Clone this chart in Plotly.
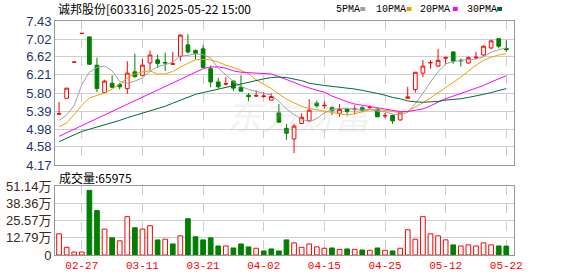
import plotly.graph_objects as go

dates = ["02-24","02-25","02-26","02-27","02-28","03-03","03-04","03-05","03-06","03-07",
         "03-10","03-11","03-12","03-13","03-14","03-17","03-18","03-19","03-20","03-21",
         "03-24","03-25","03-26","03-27","03-28","03-31","04-01","04-02","04-03","04-07",
         "04-08","04-09","04-10","04-11","04-14","04-15","04-16","04-17","04-18","04-21",
         "04-22","04-23","04-24","04-25","04-28","04-29","04-30","05-06","05-07","05-08",
         "05-09","05-12","05-13","05-14","05-15","05-16","05-19","05-20","05-21","05-22"]

opens = [5.32,5.68,6.50,7.15,7.07,6.43,5.81,6.02,5.99,5.90,
         6.28,6.20,6.48,6.55,6.49,6.45,6.63,6.89,6.76,6.80,
         6.35,6.05,6.00,6.07,5.93,5.75,5.73,5.72,5.64,5.35,
         5.00,4.76,5.11,5.17,5.57,5.51,5.47,5.34,5.44,5.43,
         5.47,5.47,5.43,5.28,5.29,5.19,5.68,5.88,6.25,6.48,
         6.41,6.59,6.73,6.54,6.48,6.60,6.66,6.82,7.03,6.81]
highs = [5.60,5.91,6.50,7.15,7.08,6.60,6.10,6.20,6.03,6.52,
         6.69,6.57,6.76,6.67,6.71,6.73,7.13,7.13,6.79,6.88,
         6.42,6.14,6.16,6.08,6.20,5.80,5.86,5.82,5.79,5.55,
         5.10,5.10,5.34,5.66,5.63,5.61,5.50,5.55,5.47,5.52,
         5.50,5.52,5.46,5.35,5.31,5.37,5.94,6.27,6.55,6.54,
         6.80,6.63,6.74,6.58,6.63,6.73,6.88,7.01,7.03,6.99]
lows = [5.31,5.68,6.50,7.15,6.44,5.82,5.81,5.91,5.88,5.78,
        6.15,6.19,6.31,6.37,6.30,6.44,6.52,6.69,6.56,6.37,
        5.93,5.90,5.97,5.85,5.84,5.61,5.71,5.69,5.64,5.13,
        4.74,4.44,5.10,5.17,5.47,5.44,5.30,5.26,5.30,5.32,
        5.36,5.44,5.26,5.23,5.10,5.18,5.68,5.81,6.16,6.35,
        6.39,6.46,6.46,6.40,6.46,6.56,6.64,6.79,6.81,6.73]
closes = [5.33,5.91,6.50,7.15,6.45,5.90,6.07,5.93,5.94,6.25,
          6.17,6.43,6.66,6.47,6.48,6.46,7.11,6.73,6.69,6.38,
          6.05,5.94,6.01,5.91,5.84,5.72,5.74,5.73,5.72,5.14,
          4.89,5.05,5.25,5.41,5.51,5.52,5.40,5.43,5.38,5.44,
          5.41,5.48,5.26,5.29,5.17,5.37,5.71,6.27,6.41,6.49,
          6.54,6.60,6.52,6.53,6.60,6.61,6.86,6.98,6.86,6.78]

# volume in 万 (10k)
volumes = [15.7,5.7,2.2,2.2,47.9,32.9,19.2,12.7,10.5,28.4,
           20.2,19.2,21.7,11.2,11.7,8.2,14.2,26.9,13.5,11.2,
           12.7,6.7,6.7,5.2,8.2,6.0,5.0,3.0,4.5,3.0,
           11.2,9.0,5.7,8.2,6.0,5.0,5.2,4.2,4.5,4.2,
           3.7,3.5,5.2,3.5,3.0,5.0,18.7,11.7,28.4,15.7,
           14.2,11.2,7.5,6.7,7.5,6.7,9.0,7.5,6.7,6.6]
vol_up = [1,1,1,1,0,0,1,0,1,1,
          0,1,1,0,1,0,1,0,0,0,
          0,0,1,0,0,0,1,0,0,0,
          0,1,1,1,1,1,0,1,0,1,
          0,1,0,1,0,1,1,1,1,1,
          1,1,0,1,1,1,1,1,0,0]

ma5 = [5.18,5.30,5.52,5.99,6.27,6.38,6.41,6.30,6.06,6.02,
       6.07,6.14,6.29,6.40,6.44,6.50,6.64,6.65,6.69,6.67,
       6.59,6.36,6.21,6.06,5.95,5.88,5.84,5.79,5.75,5.61,
       5.44,5.31,5.21,5.15,5.22,5.35,5.42,5.45,5.45,5.43,
       5.41,5.43,5.39,5.38,5.32,5.31,5.36,5.56,5.79,6.05,
       6.28,6.46,6.51,6.54,6.56,6.57,6.62,6.72,6.78,6.82]
ma10 = [5.04,5.12,5.31,5.52,5.69,5.75,5.80,5.89,6.00,6.14,
        6.23,6.28,6.30,6.23,6.23,6.29,6.39,6.47,6.55,6.56,
        6.55,6.50,6.43,6.38,6.31,6.24,6.10,6.00,5.90,5.78,
        5.66,5.58,5.50,5.45,5.42,5.40,5.36,5.33,5.30,5.33,
        5.38,5.42,5.42,5.41,5.38,5.36,5.39,5.48,5.58,5.69,
        5.80,5.91,6.04,6.16,6.30,6.43,6.54,6.61,6.66,6.69]
ma20 = [4.82,4.90,4.98,5.06,5.14,5.23,5.31,5.39,5.47,5.55,
        5.63,5.71,5.79,5.87,5.95,6.03,6.11,6.19,6.28,6.35,
        6.39,6.39,6.36,6.30,6.27,6.26,6.25,6.24,6.23,6.17,
        6.11,6.04,5.97,5.91,5.86,5.82,5.73,5.67,5.60,5.55,
        5.52,5.50,5.46,5.43,5.40,5.38,5.38,5.41,5.44,5.51,
        5.59,5.67,5.73,5.79,5.84,5.90,5.97,6.05,6.12,6.19]
ma30 = [4.70,4.78,4.86,4.93,4.98,5.03,5.07,5.12,5.18,5.24,
        5.29,5.34,5.39,5.44,5.50,5.57,5.64,5.71,5.77,5.81,
        5.85,5.89,5.92,5.96,6.00,6.04,6.09,6.12,6.15,6.16,
        6.15,6.12,6.08,6.02,5.99,5.97,5.95,5.93,5.92,5.89,
        5.86,5.83,5.79,5.75,5.70,5.67,5.62,5.60,5.59,5.60,
        5.61,5.64,5.65,5.67,5.70,5.73,5.77,5.81,5.85,5.90]

price_ticks = [4.17, 4.58, 4.98, 5.39, 5.80, 6.21, 6.62, 7.02, 7.43]
vol_ticks = [0, 12.79, 25.57, 38.36, 51.14]
vol_tick_labels = ["0", "12.79万", "25.57万", "38.36万", "51.14万"]
date_ticks = ["02-27", "03-11", "03-21", "04-02", "04-15", "04-25", "05-12", "05-22"]

title_text = "诚邦股份[603316] 2025-05-22 15:00"
vol_title = "成交量:65975"
legend_names = ["5PMA", "10PMA", "20PMA", "30PMA"]

RED = "#ff0000"
GREEN = "#008000"
MA_COLORS = ["#a0a0a0", "#f0a000", "#ff00ff", "#006a35"]

W, H = 578, 276
def px(xp): return xp / W
def py(yp): return 1 - yp / H

x = list(range(len(dates)))
tick_pos = [dates.index(d) for d in date_ticks]

fig = go.Figure()

fig.add_trace(go.Candlestick(
    x=x, open=opens, high=highs, low=lows, close=closes,
    xaxis="x", yaxis="y",
    increasing=dict(line=dict(color=RED, width=1), fillcolor="#ffffff"),
    decreasing=dict(line=dict(color=GREEN, width=1), fillcolor=GREEN),
    whiskerwidth=0, showlegend=False, hoverinfo="skip"))

for name, vals, col in zip(legend_names, [ma5, ma10, ma20, ma30], MA_COLORS):
    fig.add_trace(go.Scatter(x=x, y=vals, mode="lines", name=name,
                             line=dict(color=col, width=1),
                             xaxis="x", yaxis="y", showlegend=False, hoverinfo="skip"))

up_x = [i for i in x if vol_up[i]]
up_v = [volumes[i] for i in x if vol_up[i]]
dn_x = [i for i in x if not vol_up[i]]
dn_v = [volumes[i] for i in x if not vol_up[i]]
fig.add_trace(go.Bar(x=up_x, y=up_v, width=0.62, xaxis="x2", yaxis="y2",
                     marker=dict(color="#ffffff", line=dict(color=RED, width=1)),
                     showlegend=False, hoverinfo="skip"))
fig.add_trace(go.Bar(x=dn_x, y=dn_v, width=0.62, xaxis="x2", yaxis="y2",
                     marker=dict(color=GREEN, line=dict(color=GREEN, width=1)),
                     showlegend=False, hoverinfo="skip"))

xdom = [px(56), px(522)]
xrange_ = [-0.52, 60.0]
common_x = dict(domain=xdom, range=xrange_, showgrid=True, gridcolor="#cccccc",
                griddash="dash", gridwidth=1, tickvals=tick_pos, ticktext=date_ticks,
                showline=True, mirror=True, linecolor="#999999", linewidth=1,
                zeroline=False, ticks="", fixedrange=True)
common_y = dict(showgrid=True, gridcolor="#cfcfcf", gridwidth=1, showline=True,
                mirror=True, linecolor="#999999", linewidth=1, zeroline=False,
                ticks="", fixedrange=True, automargin=False)

fig.update_layout(
    width=W, height=H, margin=dict(l=0, r=0, t=0, b=0),
    paper_bgcolor="#ffffff", plot_bgcolor="#ffffff",
    barmode="overlay", showlegend=False,
    font=dict(family="Liberation Sans, Arial, Noto Sans CJK SC", size=13),
    xaxis=dict(**common_x, anchor="y", showticklabels=False,
               rangeslider=dict(visible=False)),
    yaxis=dict(**common_y, domain=[py(165), py(21)], range=[4.17, 7.43],
               tickvals=price_ticks, ticktext=["%.2f" % v for v in price_ticks],
               tickfont=dict(color="#1c3470", size=13,
                             family="Liberation Sans, Arial")),
    xaxis2=dict(**common_x, anchor="y2", showticklabels=True,
                tickfont=dict(color=RED, size=11,
                              family="Liberation Mono, DejaVu Sans Mono")),
    yaxis2=dict(**common_y, domain=[py(255), py(186)], range=[0, 51.14],
                tickvals=vol_ticks, ticktext=vol_tick_labels,
                tickfont=dict(color="#3a2a1a", size=13,
                              family="Liberation Sans, Noto Sans CJK SC")),
)

annotations = []
annotations.append(dict(x=px(57), y=py(8), xref="paper", yref="paper",
                        text=title_text, showarrow=False, xanchor="left", yanchor="middle",
                        font=dict(size=12, color="#000000",
                                  family="Noto Sans CJK SC")))
annotations.append(dict(x=px(58), y=py(177), xref="paper", yref="paper",
                        text=vol_title, showarrow=False, xanchor="left", yanchor="middle",
                        font=dict(size=12, color="#000000",
                                  family="Noto Sans CJK SC")))
# watermark
annotations.append(dict(x=px(305), y=py(86), xref="paper", yref="paper",
                        text="<i>东方财富</i>", showarrow=False,
                        font=dict(size=36, color="rgba(190,190,190,0.20)",
                                  family="Noto Sans CJK SC")))

shapes = []
leg_x = [339, 380, 425, 472]
sq_x = [366, 413, 460, 505]
for name, lx, sx, col in zip(legend_names, leg_x, sq_x, MA_COLORS):
    annotations.append(dict(x=px(lx), y=py(9), xref="paper", yref="paper",
                            text=name, showarrow=False, xanchor="left", yanchor="middle",
                            font=dict(size=10, color="#000000",
                                      family="Liberation Mono, DejaVu Sans Mono")))
    shapes.append(dict(type="rect", xref="paper", yref="paper",
                       x0=px(sx), x1=px(sx + 5), y0=py(11), y1=py(7),
                       fillcolor=col, line=dict(width=0)))

fig.update_layout(annotations=annotations, shapes=shapes)

fig.write_html("out.html")
